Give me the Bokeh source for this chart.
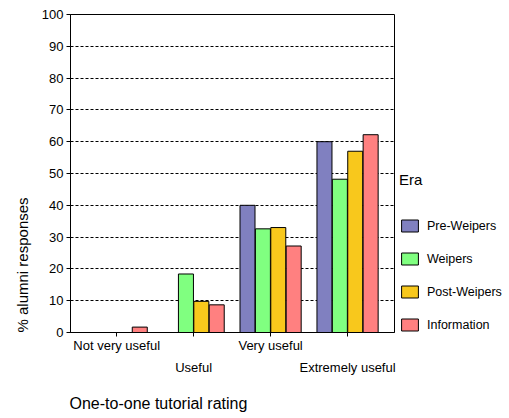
from bokeh.plotting import figure
from bokeh.models import ColumnDataSource, Range1d, Legend, LegendItem, Title, FixedTicker
from bokeh.transform import dodge
from bokeh.embed import file_html
from bokeh.resources import INLINE

categories = ["Not very useful", "Useful", "Very useful", "Extremely useful"]
series_names = ["Pre-Weipers", "Weipers", "Post-Weipers", "Information"]
pre_weipers = [0, 0, 40, 60]
weipers = [0, 18.4, 32.6, 48.2]
post_weipers = [0, 9.8, 33.0, 57.0]
information = [1.7, 8.7, 27.2, 62.2]
y_ticks = [0, 10, 20, 30, 40, 50, 60, 70, 80, 90, 100]

colors = ["#8080C0", "#80FF80", "#F8C81C", "#FF8080"]
offsets = [-0.3, -0.1, 0.1, 0.3]
FONT = "Liberation Sans"

src = ColumnDataSource(data=dict(
    x=list(range(len(categories))),
    pre=pre_weipers, wei=weipers, post=post_weipers, info=information,
))

p = figure(frame_width=324, frame_height=318, output_backend="svg", toolbar_location=None,
           x_range=Range1d(-0.6, 3.61), y_range=Range1d(0, 100),
           min_border_left=70, min_border_top=14, min_border_right=113,
           min_border_bottom=84)
p.background_fill_color = "white"
p.border_fill_color = "white"
p.outline_line_color = "black"
p.outline_line_width = 1

renderers = []
for col, c, off in zip(["pre", "wei", "post", "info"], colors, offsets):
    r = p.vbar(x=dodge("x", off, range=p.x_range), top=col, width=0.195,
               source=src, fill_color=c, line_color="black", line_width=1)
    renderers.append(r)

# axes
p.xaxis.ticker = FixedTicker(ticks=list(range(len(categories))))
p.xaxis.major_label_overrides = {0: categories[0], 1: "\n" + categories[1],
                                 2: categories[2], 3: "\n" + categories[3]}
p.xaxis.major_label_text_line_height = 1.5
p.yaxis.ticker = FixedTicker(ticks=y_ticks)
for ax in (p.xaxis, p.yaxis):
    ax.major_label_text_font = FONT
    ax.major_label_text_font_size = "13px"
    ax.major_label_text_color = "black"
    ax.axis_line_color = "black"
    ax.major_tick_line_color = "black"
    ax.major_tick_out = 4
    ax.major_tick_in = 0
    ax.minor_tick_line_color = None
    ax.major_label_standoff = 3
p.xaxis.major_label_standoff = 1

p.xgrid.grid_line_color = None
p.ygrid.grid_line_color = "black"
p.ygrid.grid_line_dash = "3 2"
p.ygrid.grid_line_width = 1

# axis titles
p.add_layout(Title(text="% alumni responses", align="left", text_font=FONT,
                   text_font_size="15px", text_font_style="normal",
                   text_color="black", standoff=16), "left")
p.add_layout(Title(text="One-to-one tutorial rating", align="left", text_font=FONT,
                   text_font_size="16px", text_font_style="normal",
                   text_color="black", standoff=29, offset=-1), "below")

legend = Legend(items=[LegendItem(label=n, renderers=[r]) for n, r in zip(series_names, renderers)],
                title="Era", location=(5, 0))
legend.title_text_font = FONT
legend.title_text_font_size = "15px"
legend.title_text_font_style = "normal"
legend.title_text_color = "black"
legend.title_standoff = 30
legend.label_text_font = FONT
legend.label_text_font_size = "12.5px"
legend.label_text_color = "black"
legend.glyph_width = 21
legend.glyph_height = 15
legend.label_height = 15
legend.label_standoff = 7
legend.spacing = 18
legend.padding = 0
legend.margin = 0
legend.border_line_color = None
legend.background_fill_alpha = 0
p.add_layout(legend, "right")

open("out.html", "w").write(file_html(p, INLINE))
